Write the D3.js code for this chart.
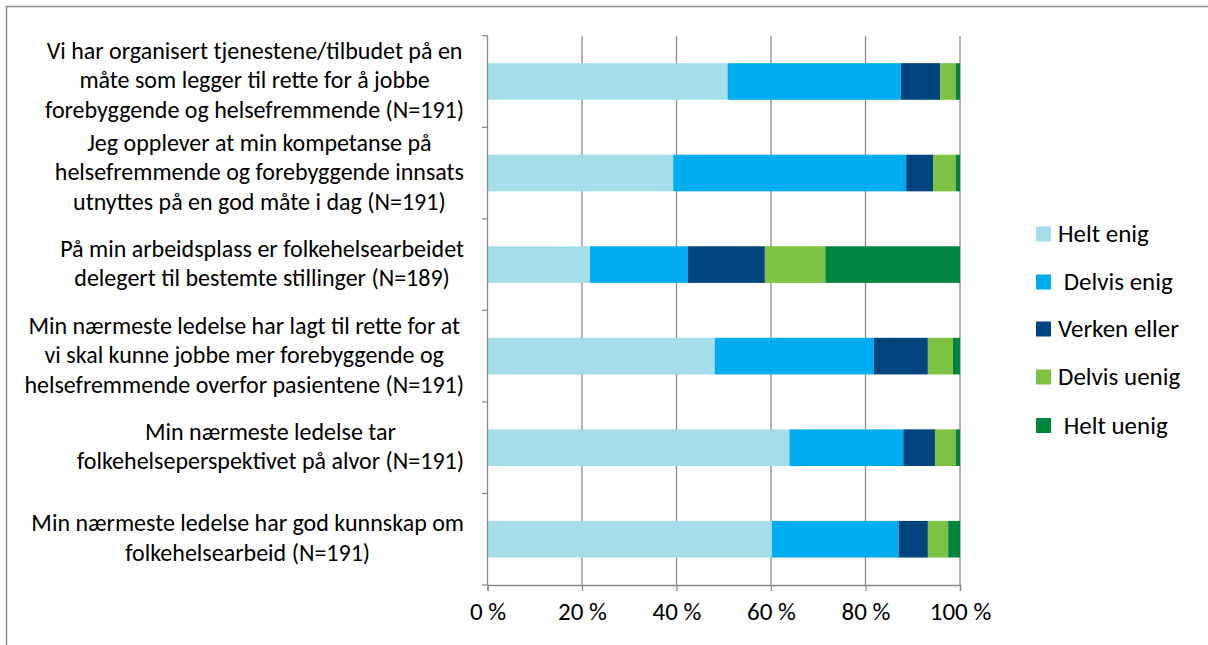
<!DOCTYPE html>
<html>
<head>
<meta charset="utf-8">
<script src="https://cdn.jsdelivr.net/npm/d3@7"></script>
<style>
  html, body { margin: 0; padding: 0; background: #fff; }
  svg { display: block; }
  text { font-family: Carlito, Calibri, Lato, "Open Sans", sans-serif; fill: #000; }
</style>
</head>
<body>
<svg id="chart" width="1208" height="645"></svg>
<script>
// ---- data ----
const categories = [
  "Vi har organisert tjenestene/tilbudet på en|måte som legger til rette for å jobbe|forebyggende og helsefremmende (N=191)",
  "Jeg opplever at min kompetanse på|helsefremmende og forebyggende innsats|utnyttes på en god måte i dag (N=191)",
  "På min arbeidsplass er folkehelsearbeidet|delegert til bestemte stillinger (N=189)",
  "Min nærmeste ledelse har lagt til rette for at|vi skal kunne jobbe mer forebyggende og|helsefremmende overfor pasientene (N=191)",
  "Min nærmeste ledelse tar|folkehelseperspektivet på alvor (N=191)",
  "Min nærmeste ledelse har god kunnskap om|folkehelsearbeid (N=191)"
];
const seriesNames = ["Helt enig", " Delvis enig", "Verken eller", "Delvis uenig", " Helt uenig"];
const heltEnig    = [50.8, 39.3, 21.7, 48.1, 63.9, 60.2];
const delvisEnig  = [36.7, 49.3, 20.7, 33.7, 24.1, 26.8];
const verkenEller = [ 8.3,  5.7, 16.3, 11.4,  6.7,  6.2];
const delvisUenig = [ 3.3,  4.8, 12.8,  5.3,  4.4,  4.3];
const heltUenig   = [ 0.9,  0.9, 28.5,  1.5,  0.9,  2.5];
const tickValues  = [0, 20, 40, 60, 80, 100];
const tickLabels  = ["0 %", "20 %", "40 %", "60 %", "80 %", "100 %"];
const colors = ["#A5DEEA", "#00AEEF", "#00457D", "#7DC242", "#00853F"];

// ---- layout ----
const svg = d3.select("#chart");
const FS = 24;      // category labels
const FS_AX = 25;   // axis tick labels
const FS_LG = 25;   // legend
const gridColor = "#8a8a8a";

// outer frame
svg.append("rect").attr("x", 6.5).attr("y", 6.5).attr("width", 1400).attr("height", 1000)
  .attr("fill", "none").attr("stroke", "#8c8c8c").attr("stroke-width", 1.5);

const x = d3.scaleLinear().domain([0, 100]).range([487.5, 960]);
const y = d3.scaleBand().domain(d3.range(categories.length)).range([35.7, 585])
  .paddingInner(0.6).paddingOuter(0.3);

const seriesData = [heltEnig, delvisEnig, verkenEller, delvisUenig, heltUenig];
const table = categories.map((c, i) => {
  const o = { idx: i };
  seriesNames.forEach((s, k) => o["s" + k] = seriesData[k][i]);
  return o;
});
const stack = d3.stack().keys(seriesNames.map((s, k) => "s" + k));
const stacked = stack(table);

// gridlines
svg.append("g").selectAll("line").data(tickValues.slice(1)).join("line")
  .attr("x1", d => x(d)).attr("x2", d => x(d))
  .attr("y1", 35.7).attr("y2", 585)
  .attr("stroke", gridColor).attr("stroke-width", 1.3);

// bars
svg.append("g").selectAll("g").data(stacked).join("g")
  .attr("fill", (d, k) => colors[k])
  .selectAll("rect").data(d => d).join("rect")
  .attr("x", d => x(d[0]))
  .attr("width", d => x(d[1]) - x(d[0]))
  .attr("y", d => y(d.data.idx))
  .attr("height", y.bandwidth());

// axes
const xAxis = d3.axisBottom(x).tickValues(tickValues).tickSize(6).tickFormat((d, i) => tickLabels[i]);
const gx = svg.append("g").attr("transform", "translate(0,585)").call(xAxis);
gx.select(".domain").attr("stroke", gridColor).attr("stroke-width", 1.3);
gx.selectAll(".tick line").attr("stroke", gridColor).attr("stroke-width", 1.3);
gx.selectAll(".tick text").attr("font-size", FS_AX).attr("font-family", null)
  .attr("y", 0).attr("dy", null).attr("transform", "translate(0,35)").style("fill", "#000");

// y axis line + boundary ticks
const step = y.step();
svg.append("line").attr("x1", 487.5).attr("x2", 487.5).attr("y1", 35.7).attr("y2", 585)
  .attr("stroke", gridColor).attr("stroke-width", 1.3);
svg.append("g").selectAll("line").data(d3.range(categories.length + 1)).join("line")
  .attr("x1", 482).attr("x2", 487.5)
  .attr("y1", i => 35.7 + i * step).attr("y2", i => 35.7 + i * step)
  .attr("stroke", gridColor).attr("stroke-width", 1.3);

// category labels
const lineH = 29.5;
const gl = svg.append("g");
categories.forEach((c, i) => {
  const lines = c.split("|");
  const cy = y(i) + y.bandwidth() / 2;
  const t = gl.append("text").attr("font-size", FS).attr("text-anchor", "middle");
  const tsp = lines.map((l, j) => t.append("tspan").text(l)
    .attr("y", cy + (j - (lines.length - 1) / 2) * lineH + 7));
  const maxW = d3.max(tsp, s => s.node().getComputedTextLength());
  tsp.forEach(s => s.attr("x", 464 - maxW / 2));
});

// legend
const legendY = [234, 282, 329, 377, 425.5];
const lg = svg.append("g");
seriesNames.forEach((s, k) => {
  lg.append("rect").attr("x", 1036).attr("y", legendY[k] - 7.5).attr("width", 15).attr("height", 15)
    .attr("fill", colors[k]);
  lg.append("text").attr("x", 1058).attr("y", legendY[k] + 8).attr("font-size", FS_LG)
    .attr("xml:space", "preserve").style("white-space", "pre").text(s);
});
</script>
</body>
</html>
